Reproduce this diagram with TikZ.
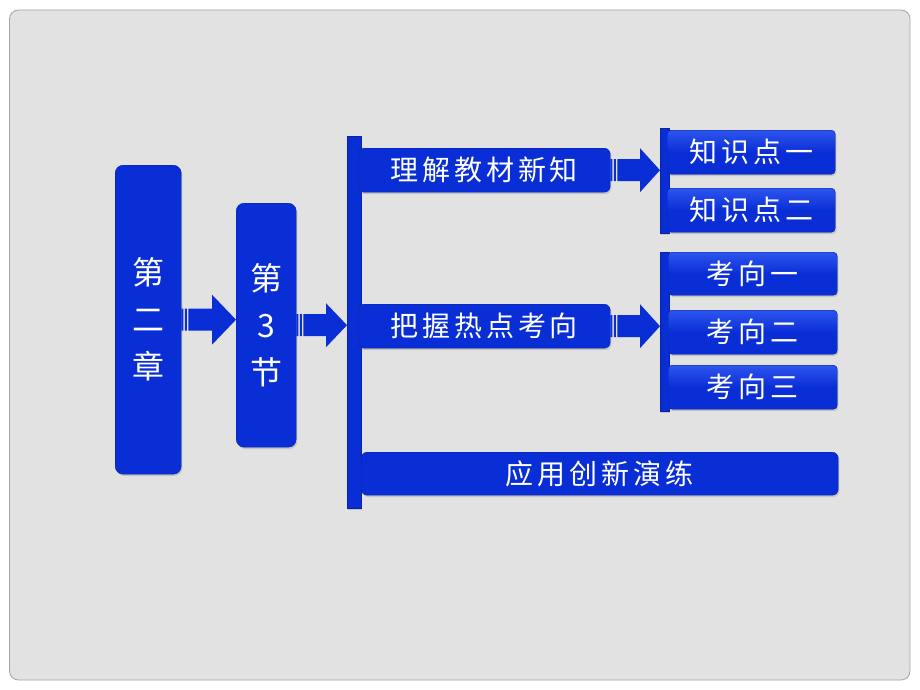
\documentclass[tikz,border=0pt]{standalone}
\usepackage{fontspec}
\newfontfamily\cjk[LetterSpace=14]{Noto Sans CJK SC}
\newfontfamily\cjkv{Noto Sans CJK SC}
\usetikzlibrary{calc,shadows}
\definecolor{bblue}{RGB}{10,46,214}
\definecolor{bblueL}{RGB}{45,85,238}
\definecolor{bgfill}{RGB}{226,226,226}
\definecolor{framec}{RGB}{165,165,165}
\newcommand{\fatarrow}[4]{%
  \fill[bblue] let \p1=(#1.east), \p2=(#2.west) in
    (\x1+7pt,\y1+11pt) -- (\x2-#3,\y1+11pt) -- (\x2-#3,\y1+#4) -- (\x2,\y1)
    -- (\x2-#3,\y1-#4) -- (\x2-#3,\y1-11pt) -- (\x1+7pt,\y1-11pt) -- cycle;
  \fill[bblue] let \p1=(#1.east) in
    (\x1,\y1+11pt) rectangle (\x1+2pt,\y1-11pt)
    (\x1+3.5pt,\y1+11pt) rectangle (\x1+5.5pt,\y1-11pt);
}
\begin{document}
\begin{tikzpicture}[x=1pt,y=-1pt,
  shad/.style={drop shadow={shadow xshift=1.2pt,shadow yshift=-1.8pt,opacity=0.3}},
  box/.style={draw=bblue!75!black, line width=0.4pt, fill=bblue, text=white,
    inner sep=0pt, anchor=north west, shad},
  bigbox/.style={box, rounded corners=8pt, align=center,
    font=\cjkv\fontsize{32}{47}\selectfont},
  midbox/.style={box, rounded corners=6pt, font=\cjk\fontsize{28}{30}\selectfont},
  smallbox/.style={box, rounded corners=4pt, top color=bblueL, bottom color=bblue,
    middle color=bblue, font=\cjk\fontsize{28}{30}\selectfont},
  vbar/.style={fill=bblue, draw=bblue!75!black, line width=0.4pt, inner sep=0pt,
    anchor=north west, shad}]
\useasboundingbox (0,0) rectangle (920,690);
\fill[white] (0,0) rectangle (920,690);
\draw[framec, fill=bgfill, line width=0.8pt, rounded corners=9pt] (9.5,10) rectangle (910,680);

\node[bigbox, minimum width=66pt, minimum height=309pt] (c2) at (115,165) {第\\二\\章};
\node[bigbox, minimum width=60pt, minimum height=244pt] (s3) at (236,203) {第\\3\\节};

\node[vbar, minimum width=14pt, minimum height=372pt] (bar1) at (347,136) {};
\node[midbox, minimum width=252pt, minimum height=44pt] (t1) at (358,148) {理解教材新知};
\node[midbox, minimum width=252pt, minimum height=44pt] (t2) at (358,304) {把握热点考向};
\node[midbox, minimum width=477pt, minimum height=43pt] (t3) at (361,452) {应用创新演练};

\node[vbar, minimum width=9pt, minimum height=105pt] (bar2) at (660,128) {};
\node[vbar, minimum width=9pt, minimum height=159pt] (bar3) at (660,252) {};

\node[smallbox, minimum width=168pt, minimum height=44pt] (k1) at (667,130) {知识点一};
\node[smallbox, minimum width=168pt, minimum height=44pt] (k2) at (667,188) {知识点二};
\node[smallbox, minimum width=169pt, minimum height=43pt] (x1) at (668,252) {考向一};
\node[smallbox, minimum width=169pt, minimum height=44pt] (x2) at (668,310) {考向二};
\node[smallbox, minimum width=169pt, minimum height=44pt] (x3) at (668,365) {考向三};

\fatarrow{c2}{s3}{24pt}{25pt}
\fatarrow{s3}{bar1}{21pt}{22pt}
\fatarrow{t1}{bar2}{20pt}{22pt}
\fatarrow{t2}{bar3}{20pt}{22pt}
\end{tikzpicture}
\end{document}
